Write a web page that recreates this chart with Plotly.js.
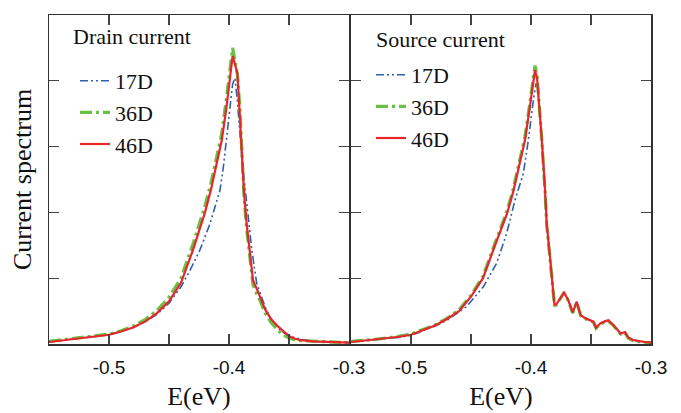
<!DOCTYPE html>
<html>
<head>
<meta charset="utf-8">
<script src="https://cdn.plot.ly/plotly-3.0.1.min.js"></script>
<style>html,body{margin:0;padding:0;background:#fff;}#chart{width:681px;height:413px;}</style>
</head>
<body>
<div id="chart"></div>
<script>
// ---- Drain current panel ----
const drainE17 = [-0.55,-0.53,-0.51,-0.50,-0.49,-0.48,-0.47,-0.46,-0.45,-0.44,-0.4325,-0.4242,-0.4158,-0.4075,-0.4047,-0.402,-0.399,-0.397,-0.395,-0.3931,-0.3894,-0.3858,-0.381,-0.3769,-0.373,-0.37,-0.3665,-0.363,-0.356,-0.35,-0.34,-0.33,-0.32,-0.31,-0.30];
const drainY17 = [0.03,0.07,0.11,0.14,0.19,0.25,0.34,0.45,0.62,0.87,1.12,1.43,1.83,2.34,2.69,3.10,3.61,3.95,4.04,3.71,2.85,2.20,1.43,0.92,0.72,0.57,0.43,0.31,0.19,0.12,0.07,0.04,0.03,0.03,0.02];

const drainE36 = [-0.55,-0.53,-0.51,-0.50,-0.49,-0.48,-0.47,-0.46,-0.45,-0.44,-0.43,-0.42,-0.415,-0.41,-0.406,-0.402,-0.399,-0.397,-0.395,-0.393,-0.391,-0.389,-0.3875,-0.3853,-0.3825,-0.38,-0.376,-0.374,-0.37,-0.365,-0.36,-0.355,-0.35,-0.345,-0.34,-0.33,-0.31,-0.30];
const drainY36 = [0.04,0.08,0.12,0.15,0.20,0.27,0.37,0.51,0.71,1.00,1.52,2.10,2.45,2.85,3.20,3.75,4.20,4.50,4.30,4.10,3.60,2.90,2.25,1.75,1.25,0.90,0.72,0.66,0.47,0.33,0.22,0.14,0.09,0.06,0.05,0.04,0.03,0.02];

const drainE46 = [-0.55,-0.53,-0.51,-0.50,-0.49,-0.48,-0.47,-0.46,-0.45,-0.44,-0.43,-0.42,-0.415,-0.41,-0.406,-0.402,-0.399,-0.397,-0.395,-0.393,-0.3914,-0.3894,-0.3875,-0.3853,-0.3825,-0.38,-0.376,-0.3742,-0.37,-0.365,-0.36,-0.355,-0.35,-0.345,-0.34,-0.33,-0.31,-0.30];
const drainY46 = [0.03,0.07,0.11,0.14,0.19,0.25,0.34,0.47,0.65,0.93,1.43,2.00,2.35,2.75,3.10,3.61,4.10,4.38,4.25,4.11,3.61,2.95,2.30,1.83,1.33,0.97,0.80,0.72,0.53,0.38,0.28,0.20,0.12,0.08,0.06,0.04,0.03,0.02];

// ---- Source current panel ----
const srcE17 = [-0.55,-0.53,-0.51,-0.50,-0.48,-0.47,-0.46,-0.4536,-0.4397,-0.4286,-0.4203,-0.4133,-0.4064,-0.4022,-0.398,-0.3958,-0.394,-0.392,-0.39,-0.3883,-0.3869,-0.3842,-0.3819,-0.3805,-0.379,-0.3755,-0.3725,-0.369,-0.3653,-0.3619,-0.3586,-0.3555,-0.3522,-0.348,-0.3458,-0.3425,-0.339,-0.3356,-0.3314,-0.3253,-0.3217,-0.319,-0.315,-0.31,-0.305,-0.30];
const srcY17 = [0.03,0.06,0.10,0.13,0.27,0.36,0.48,0.57,0.87,1.23,1.68,2.19,2.59,3.10,3.71,3.96,3.80,3.40,2.90,2.30,1.83,1.33,0.82,0.60,0.60,0.70,0.78,0.67,0.48,0.64,0.44,0.40,0.37,0.34,0.25,0.31,0.34,0.36,0.29,0.16,0.18,0.10,0.06,0.04,0.03,0.02];

const srcE36 = [-0.55,-0.54,-0.53,-0.52,-0.51,-0.50,-0.49,-0.48,-0.47,-0.46,-0.45,-0.44,-0.43,-0.42,-0.415,-0.41,-0.405,-0.401,-0.3985,-0.3967,-0.395,-0.393,-0.391,-0.3883,-0.3869,-0.3842,-0.3819,-0.3805,-0.379,-0.3755,-0.3725,-0.369,-0.3653,-0.3619,-0.3586,-0.3555,-0.3522,-0.348,-0.3458,-0.3425,-0.339,-0.3356,-0.3314,-0.3253,-0.3217,-0.319,-0.315,-0.31,-0.305,-0.30];
const srcY36 = [0.04,0.05,0.07,0.09,0.12,0.15,0.22,0.29,0.39,0.52,0.74,1.03,1.53,2.02,2.34,2.75,3.15,3.65,4.02,4.23,4.10,3.63,3.10,2.32,1.80,1.30,0.80,0.59,0.59,0.70,0.78,0.66,0.47,0.63,0.43,0.39,0.36,0.33,0.24,0.30,0.33,0.35,0.28,0.15,0.17,0.09,0.05,0.03,0.02,0.02];

const srcE46 = [-0.55,-0.54,-0.53,-0.52,-0.51,-0.50,-0.49,-0.48,-0.47,-0.46,-0.45,-0.44,-0.43,-0.42,-0.415,-0.41,-0.405,-0.401,-0.3985,-0.3967,-0.395,-0.393,-0.391,-0.3883,-0.3869,-0.3842,-0.3819,-0.3805,-0.379,-0.3755,-0.3725,-0.369,-0.3653,-0.3619,-0.3586,-0.3555,-0.3522,-0.348,-0.3458,-0.3425,-0.339,-0.3356,-0.3314,-0.3253,-0.3217,-0.319,-0.315,-0.31,-0.305,-0.30];
const srcY46 = [0.03,0.05,0.06,0.08,0.11,0.14,0.21,0.28,0.38,0.50,0.72,1.00,1.50,1.98,2.30,2.70,3.10,3.60,3.95,4.16,4.05,3.61,3.10,2.34,1.83,1.33,0.82,0.60,0.60,0.70,0.78,0.67,0.48,0.64,0.44,0.40,0.37,0.34,0.25,0.31,0.34,0.36,0.29,0.16,0.18,0.10,0.06,0.04,0.03,0.02];

const seriesNames = ['17D','36D','46D'];
const tickVals = [-0.55,-0.5,-0.45,-0.4,-0.35,-0.3];
const tickText = ['','-0.5','','-0.4','','-0.3'];
const panelTitles = ['Drain current','Source current'];

const C_BLUE = '#2f5fae', C_GREEN = '#6abf45', C_RED = '#e8262a';
const styles = [
  {color: C_BLUE, width: 1.6, dash: '8px,3px,2px,3px,2px,3px'},
  {color: C_GREEN, width: 3.2, dash: '12px,4px,3px,4px'},
  {color: C_RED, width: 2.2, dash: 'solid'}
];

const drainSets = [[drainE17,drainY17],[drainE36,drainY36],[drainE46,drainY46]];
const srcSets = [[srcE17,srcY17],[srcE36,srcY36],[srcE46,srcY46]];

const traces = [];
drainSets.forEach((s,i)=>{
  traces.push({x:s[0], y:s[1], type:'scatter', mode:'lines', name:seriesNames[i],
    line:Object.assign({}, styles[i]), xaxis:'x', yaxis:'y', legend:'legend', legendgroup:'d'+i});
});
srcSets.forEach((s,i)=>{
  traces.push({x:s[0], y:s[1], type:'scatter', mode:'lines', name:seriesNames[i],
    line:Object.assign({}, styles[i]), xaxis:'x2', yaxis:'y2', legend:'legend2', legendgroup:'s'+i});
});

const axisCommon = {
  showline:true, linecolor:'#333', linewidth:1.5, mirror:'ticks',
  ticks:'inside', ticklen:10, tickwidth:1.2, tickcolor:'#444',
  showgrid:false, zeroline:false
};
const xCommon = Object.assign({}, axisCommon, {
  range:[-0.55,-0.3], tickmode:'array', tickvals:tickVals, ticktext:tickText,
  ticklabelstandoff:6,
  tickfont:{family:'Liberation Sans, Arial, sans-serif', size:19, color:'#111'},
  title:{text:'E(eV)', font:{family:'Liberation Serif, Times New Roman, serif', size:26, color:'#111'}, standoff:9}
});
const yCommon = Object.assign({}, axisCommon, {
  range:[0,5], tickmode:'array', tickvals:[1,2,3,4], showticklabels:false
});

const legendCommon = {
  bgcolor:'rgba(0,0,0,0)', borderwidth:0, tracegroupgap:0,
  font:{family:'Liberation Serif, Times New Roman, serif', size:22, color:'#111'},
  xanchor:'left', yanchor:'top', itemwidth:30
};

const layout = {
  width:681, height:413,
  margin:{l:49, r:30, t:15, b:69, pad:0},
  paper_bgcolor:'#fff', plot_bgcolor:'#fff',
  showlegend:true,
  xaxis:Object.assign({}, xCommon, {domain:[0, 300/602], anchor:'y'}),
  yaxis:Object.assign({}, yCommon, {domain:[0,1], anchor:'x',
    title:{text:'Current spectrum', font:{family:'Liberation Serif, Times New Roman, serif', size:26, color:'#111'}, standoff:8}}),
  xaxis2:Object.assign({}, xCommon, {domain:[302/602, 1], anchor:'y2'}),
  yaxis2:Object.assign({}, yCommon, {domain:[0,1], anchor:'x2'}),
  legend:Object.assign({}, legendCommon, {x:(75-49)/602, y:(344-60)/329}),
  legend2:Object.assign({}, legendCommon, {x:(371-49)/602, y:(344-54)/329}),
  annotations:[
    {text:panelTitles[0], xref:'paper', yref:'paper', x:(71-49)/602, y:(344-37)/329, xanchor:'left', yanchor:'middle', showarrow:false,
     font:{family:'Liberation Serif, Times New Roman, serif', size:22, color:'#111'}},
    {text:panelTitles[1], xref:'paper', yref:'paper', x:(374-49)/602, y:(344-40)/329, xanchor:'left', yanchor:'middle', showarrow:false,
     font:{family:'Liberation Serif, Times New Roman, serif', size:22, color:'#111'}}
  ]
};

Plotly.newPlot('chart', traces, layout, {staticPlot:true, displayModeBar:false});
</script>
</body>
</html>
